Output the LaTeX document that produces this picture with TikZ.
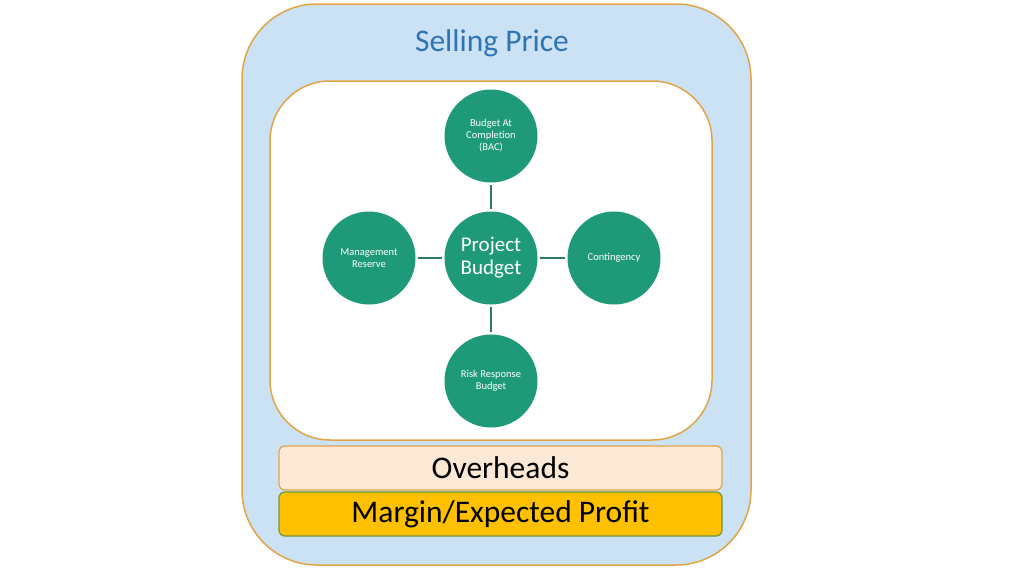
\documentclass[tikz,border=0pt]{standalone}
\usepackage{fontspec}
\setmainfont{Carlito}
\usepackage{tikz}
\usetikzlibrary{positioning}
\definecolor{PriceBG}{HTML}{CBE1F4}
\definecolor{PriceFrame}{HTML}{E2A546}
\definecolor{PriceText}{HTML}{2E74B5}
\definecolor{BudFill}{HTML}{1F9A78}
\definecolor{BudLink}{HTML}{2E7868}
\definecolor{OverBG}{HTML}{FBE9D5}
\definecolor{MarginBG}{HTML}{FFC000}
\definecolor{MarginFrame}{HTML}{6E963C}
\tikzset{
  budcircle/.style={circle,fill=BudFill,text=white,minimum size=93pt,inner sep=0pt,
    align=center,font=\fontsize{10.5}{12}\selectfont},
  budlink/.style={BudLink,line width=2pt,shorten <=2pt,shorten >=2pt},
  costbar/.style={rounded corners=6pt,line width=1.2pt,minimum width=443pt,
    minimum height=44pt,inner sep=0pt,font=\fontsize{31.5}{36}\selectfont}
}

\begin{document}
\begin{tikzpicture}[x=1pt,y=-1pt]
  \useasboundingbox (0,0) rectangle (1024,576);
  % --- selling price frame ---
  \draw[PriceFrame,fill=PriceBG,line width=1.5pt,rounded corners=75pt]
    (242,4) rectangle (751,565);
  \node[PriceText,font=\fontsize{31.5}{36}\selectfont] (sp) at (492,43) {Selling Price};
  \draw[PriceFrame,fill=white,line width=1.5pt,rounded corners=60pt]
    (270,81) rectangle (712,440);

  % --- project budget and its parts ---
  \node[budcircle,font=\fontsize{21}{23}\selectfont] (pb) at (491,258) {Project\\Budget};
  \node[budcircle] (bac) at (491,136) {Budget At\\Completion\\(BAC)};
  \node[budcircle] (mr)  at (369,258) {Management\\Reserve};
  \node[budcircle] (cont) at (614,258) {Contingency};
  \node[budcircle] (rrb) at (491,381) {Risk Response\\Budget};
  \draw[budlink] (pb) -- (bac);
  \draw[budlink] (pb) -- (mr);
  \draw[budlink] (pb) -- (cont);
  \draw[budlink] (pb) -- (rrb);

  % --- overheads and margin ---
  \node[costbar,draw=PriceFrame,fill=OverBG] (oh) at (500.5,468) {Overheads};
  \node[costbar,draw=MarginFrame,fill=MarginBG] (mp) at (500.5,514) {Margin/Expected Profit};
\end{tikzpicture}
\end{document}
